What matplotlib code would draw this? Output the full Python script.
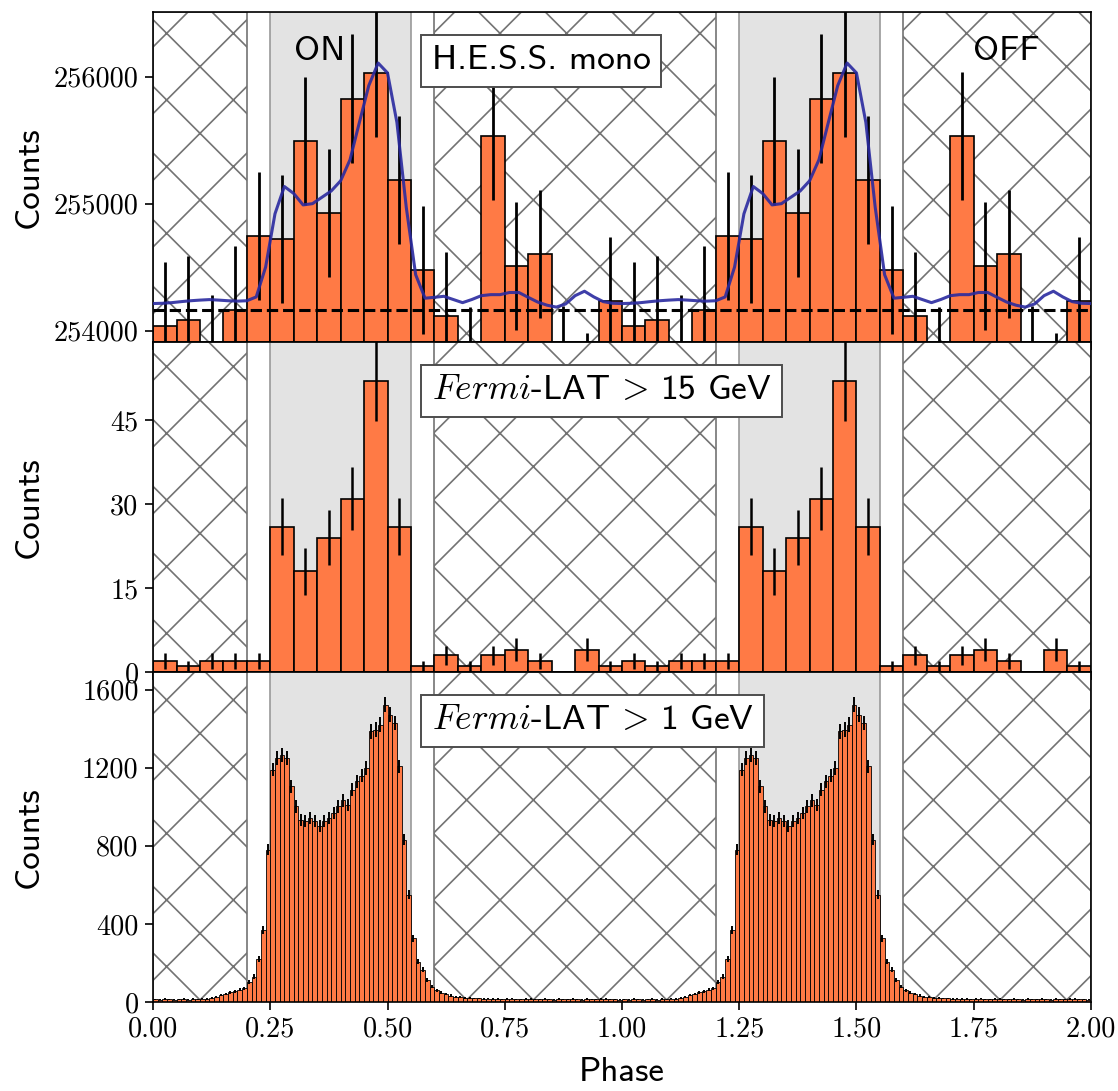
import numpy as np
import matplotlib
matplotlib.use("Agg")
import matplotlib.pyplot as plt
from matplotlib.ticker import FixedLocator, StrMethodFormatter

# one pulsar rotation (phase 0-1) of each light curve, the figure shows two
hess_counts = [254034, 254087, 253779, 254160, 254742, 254719, 255491, 254927,
               255827, 256029, 255189, 254480, 254112, 253680, 255535, 254506,
               254606, 253690, 253480, 254230]
# smoothed H.E.S.S. profile, read every 0.02 in phase
hess_model = [254213, 254215, 254220, 254228, 254235, 254240, 254244, 254240,
              254235, 254232, 254235, 254265, 254500, 254920, 255135, 255080,
              254990, 255000, 255050, 255100, 255180, 255346, 255640, 255930,
              256108, 256030, 255640, 254970, 254440, 254255, 254262, 254270,
              254245, 254220, 254245, 254275, 254283, 254283, 254300, 254300,
              254262, 254225, 254200, 254185, 254210, 254275, 254310, 254265,
              254228, 254215]
hess_bkg = 254160

lat15_counts = [2, 1, 2, 2, 2, 26, 18, 24, 31, 52, 26, 1, 3, 1, 3, 4, 2, 0, 4, 1]

lat1_counts = [14, 12, 15, 13, 11, 14, 16, 12, 15, 13,
               17, 16, 20, 24, 36, 40, 50, 55, 62, 70,
               104, 130, 222, 369, 780, 1190, 1250, 1267, 1250, 1105,
               1002, 933, 925, 942, 925, 902, 925, 942, 968, 1002,
               1033, 1010, 1087, 1130, 1159, 1198, 1386, 1395, 1421, 1523,
               1472, 1429, 1207, 831, 549, 327, 207, 164, 113, 78,
               61, 48, 41, 33, 27, 25, 22, 20, 18, 18,
               16, 17, 15, 16, 14, 15, 17, 14, 13, 15,
               16, 14, 13, 15, 14, 12, 15, 13, 14, 16,
               13, 12, 15, 14, 13, 15, 16, 14, 13, 12]

on_regions = [(0.25, 0.55), (1.25, 1.55)]
off_regions = [(0.0, 0.2), (0.6, 1.2), (1.6, 2.0)]

ORANGE = "#FF7A45"
DPI = 400

plt.rcParams.update({
    "font.family": "cmr10",
    "mathtext.fontset": "cm",
    "axes.formatter.use_mathtext": True,
    "hatch.linewidth": 0.3,
    "axes.linewidth": 0.3,
    "xtick.major.width": 0.3,
    "ytick.major.width": 0.3,
    "xtick.major.size": 1.4,
    "ytick.major.size": 1.4,
    "xtick.major.pad": 1.2,
    "ytick.major.pad": 1.2,
    "xtick.labelsize": 5.1,
    "ytick.labelsize": 5.1,
})

fig, axes = plt.subplots(3, 1, sharex=True, figsize=(1118 / DPI, 1091 / DPI), dpi=DPI)
fig.subplots_adjust(left=0.1369, right=0.9758, top=0.989, bottom=0.0816, hspace=0)


def two_cycles(vals):
    return np.concatenate([vals, vals])


def draw_regions(ax):
    for lo, hi in on_regions:
        ax.axvspan(lo, hi, facecolor="#e3e3e3", edgecolor="0.6", lw=0.3, zorder=0)
    for lo, hi in off_regions:
        # 'xx' at this dpi gives the ~68 px diamond pitch of the original
        ax.axvspan(lo, hi, facecolor="none", edgecolor="0.45", hatch="xx", lw=0.3, zorder=0)


def draw_hist(ax, counts, width, edge_lw, err_lw):
    counts = two_cycles(np.array(counts, dtype=float))
    left = np.arange(len(counts)) * width
    ax.bar(left, counts, width=width, align="edge", color=ORANGE,
           edgecolor="black", linewidth=edge_lw, zorder=2)
    ax.errorbar(left + width / 2, counts, yerr=np.sqrt(counts), fmt="none",
                ecolor="black", elinewidth=err_lw, capsize=0, zorder=3)


def label_box(ax, text):
    ax.text(0.297, 0.852, text, transform=ax.transAxes, fontfamily="cmss10",
            fontsize=6.4, va="center", ha="left", zorder=6,
            bbox=dict(boxstyle="square,pad=0.3", fc="white", ec="0.3", lw=0.35))


for ax in axes:
    draw_regions(ax)

# H.E.S.S.
ax = axes[0]
draw_hist(ax, hess_counts, 0.05, 0.3, 0.5)
model = two_cycles(np.array(hess_model, dtype=float))
model = np.append(model, hess_model[0])
ax.plot(np.arange(len(model)) * 0.02, model, color="#2a2aa0", lw=0.55, alpha=0.9, zorder=4)
ax.axhline(hess_bkg, color="black", ls="--", lw=0.55, zorder=4)
ax.set_ylim(253910, 256510)
ax.yaxis.set_major_locator(FixedLocator([254000, 255000, 256000]))
ax.yaxis.set_major_formatter(StrMethodFormatter("{x:.0f}"))
label_box(ax, "H.E.S.S. mono")
ax.text(0.355, 0.88, "ON", transform=ax.get_xaxis_transform(), fontfamily="cmss10",
        fontsize=6.4, ha="center", va="center", zorder=6)
ax.text(1.82, 0.88, "OFF", transform=ax.get_xaxis_transform(), fontfamily="cmss10",
        fontsize=6.4, ha="center", va="center", zorder=6)

# Fermi-LAT > 15 GeV
ax = axes[1]
draw_hist(ax, lat15_counts, 0.05, 0.3, 0.45)
ax.set_ylim(0, 59)
ax.yaxis.set_major_locator(FixedLocator([0, 15, 30, 45]))
ax.yaxis.set_major_formatter(StrMethodFormatter("{x:.0f}"))
label_box(ax, r"$Fermi$-LAT$\,>\,$15 GeV")

# Fermi-LAT > 1 GeV
ax = axes[2]
draw_hist(ax, lat1_counts, 0.01, 0.15, 0.35)
ax.set_ylim(0, 1690)
ax.yaxis.set_major_locator(FixedLocator([0, 400, 800, 1200, 1600]))
ax.yaxis.set_major_formatter(StrMethodFormatter("{x:.0f}"))
label_box(ax, r"$Fermi$-LAT$\,>\,$1 GeV")

ax.set_xlim(0, 2)
ax.xaxis.set_major_locator(FixedLocator(np.arange(0, 2.01, 0.25)))
ax.xaxis.set_major_formatter(StrMethodFormatter("{x:.2f}"))
ax.set_xlabel("Phase", fontfamily="cmss10", fontsize=6.3, labelpad=2.5)

for ax in axes:
    ax.set_ylabel("Counts", fontfamily="cmss10", fontsize=6.3)
    ax.yaxis.set_label_coords(-0.116, 0.5)

fig.savefig("out.png", dpi=DPI)
